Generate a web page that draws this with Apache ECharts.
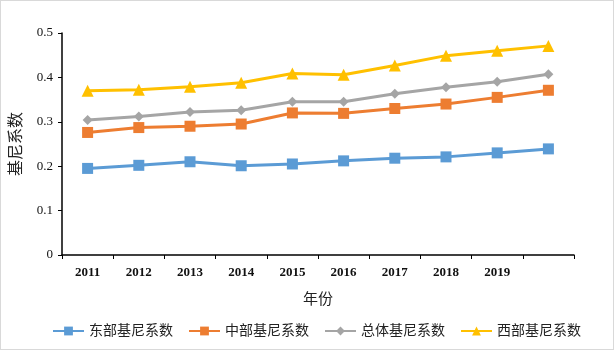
<!DOCTYPE html>
<html>
<head>
<meta charset="utf-8">
<script src="https://cdn.jsdelivr.net/npm/echarts@6/dist/echarts.min.js"></script>
<style>
  html, body { margin: 0; padding: 0; background: #fff; }
  #main { width: 612px; height: 348px; border: 1px solid #d9d9d9; }
</style>
</head>
<body>
<div id="main"></div>
<script>
// 年份（第10个类目无标签）
const years = ['2011', '2012', '2013', '2014', '2015', '2016', '2017', '2018', '2019', ''];
// 各地区基尼系数
const eastGini = [0.195, 0.202, 0.210, 0.201, 0.205, 0.212, 0.218, 0.221, 0.230, 0.239];
const centralGini = [0.276, 0.287, 0.290, 0.295, 0.320, 0.319, 0.330, 0.340, 0.355, 0.371];
const totalGini = [0.304, 0.312, 0.322, 0.326, 0.345, 0.345, 0.363, 0.378, 0.390, 0.407];
const westGini = [0.370, 0.372, 0.379, 0.388, 0.409, 0.406, 0.427, 0.449, 0.460, 0.471];

const serif = '"Liberation Serif", "Noto Sans CJK SC", serif';

function makeSeries(name, data, color, symbol, size) {
  return {
    name: name,
    type: 'line',
    data: data,
    symbol: symbol,
    symbolSize: size,
    lineStyle: { color: color, width: 3 },
    itemStyle: { color: color },
    emphasis: { disabled: true }
  };
}

const chart = echarts.init(document.getElementById('main'));
chart.setOption({
  animation: false,
  grid: { left: 58, right: 39, top: 32, bottom: 94 },
  legend: {
    top: 318,
    left: 46,
    itemWidth: 31,
    itemHeight: 11,
    itemGap: 15,
    textStyle: { fontFamily: serif, fontSize: 14, color: '#222' },
    data: ['东部基尼系数', '中部基尼系数', '总体基尼系数', '西部基尼系数']
  },
  xAxis: {
    type: 'category',
    data: years,
    boundaryGap: true,
    name: '年份',
    nameLocation: 'middle',
    nameGap: 38,
    nameTextStyle: { fontFamily: serif, fontSize: 15, color: '#222' },
    axisLine: { lineStyle: { color: '#000', width: 1.5 } },
    axisTick: { show: true, alignWithLabel: false, length: 4, lineStyle: { color: '#000' } },
    axisLabel: { fontFamily: serif, fontSize: 13, fontWeight: 'bold', color: '#111', margin: 11, interval: 0 },
    splitLine: { show: false }
  },
  yAxis: {
    type: 'value',
    min: 0,
    max: 0.5,
    interval: 0.1,
    name: '基尼系数',
    nameLocation: 'middle',
    nameGap: 37,
    nameRotate: 90,
    nameTextStyle: { fontFamily: serif, fontSize: 16, color: '#222' },
    axisLine: { show: true, lineStyle: { color: '#000', width: 1.5 } },
    axisTick: { show: true, length: 4, lineStyle: { color: '#000' } },
    axisLabel: { fontFamily: serif, fontSize: 13, color: '#111', margin: 9 },
    splitLine: { show: false }
  },
  series: [
    makeSeries('东部基尼系数', eastGini, '#5B9BD5', 'rect', 11),
    makeSeries('中部基尼系数', centralGini, '#ED7D31', 'rect', 11),
    makeSeries('总体基尼系数', totalGini, '#A5A5A5', 'diamond', 10),
    makeSeries('西部基尼系数', westGini, '#FFC000', 'triangle', 12)
  ]
});
</script>
</body>
</html>
